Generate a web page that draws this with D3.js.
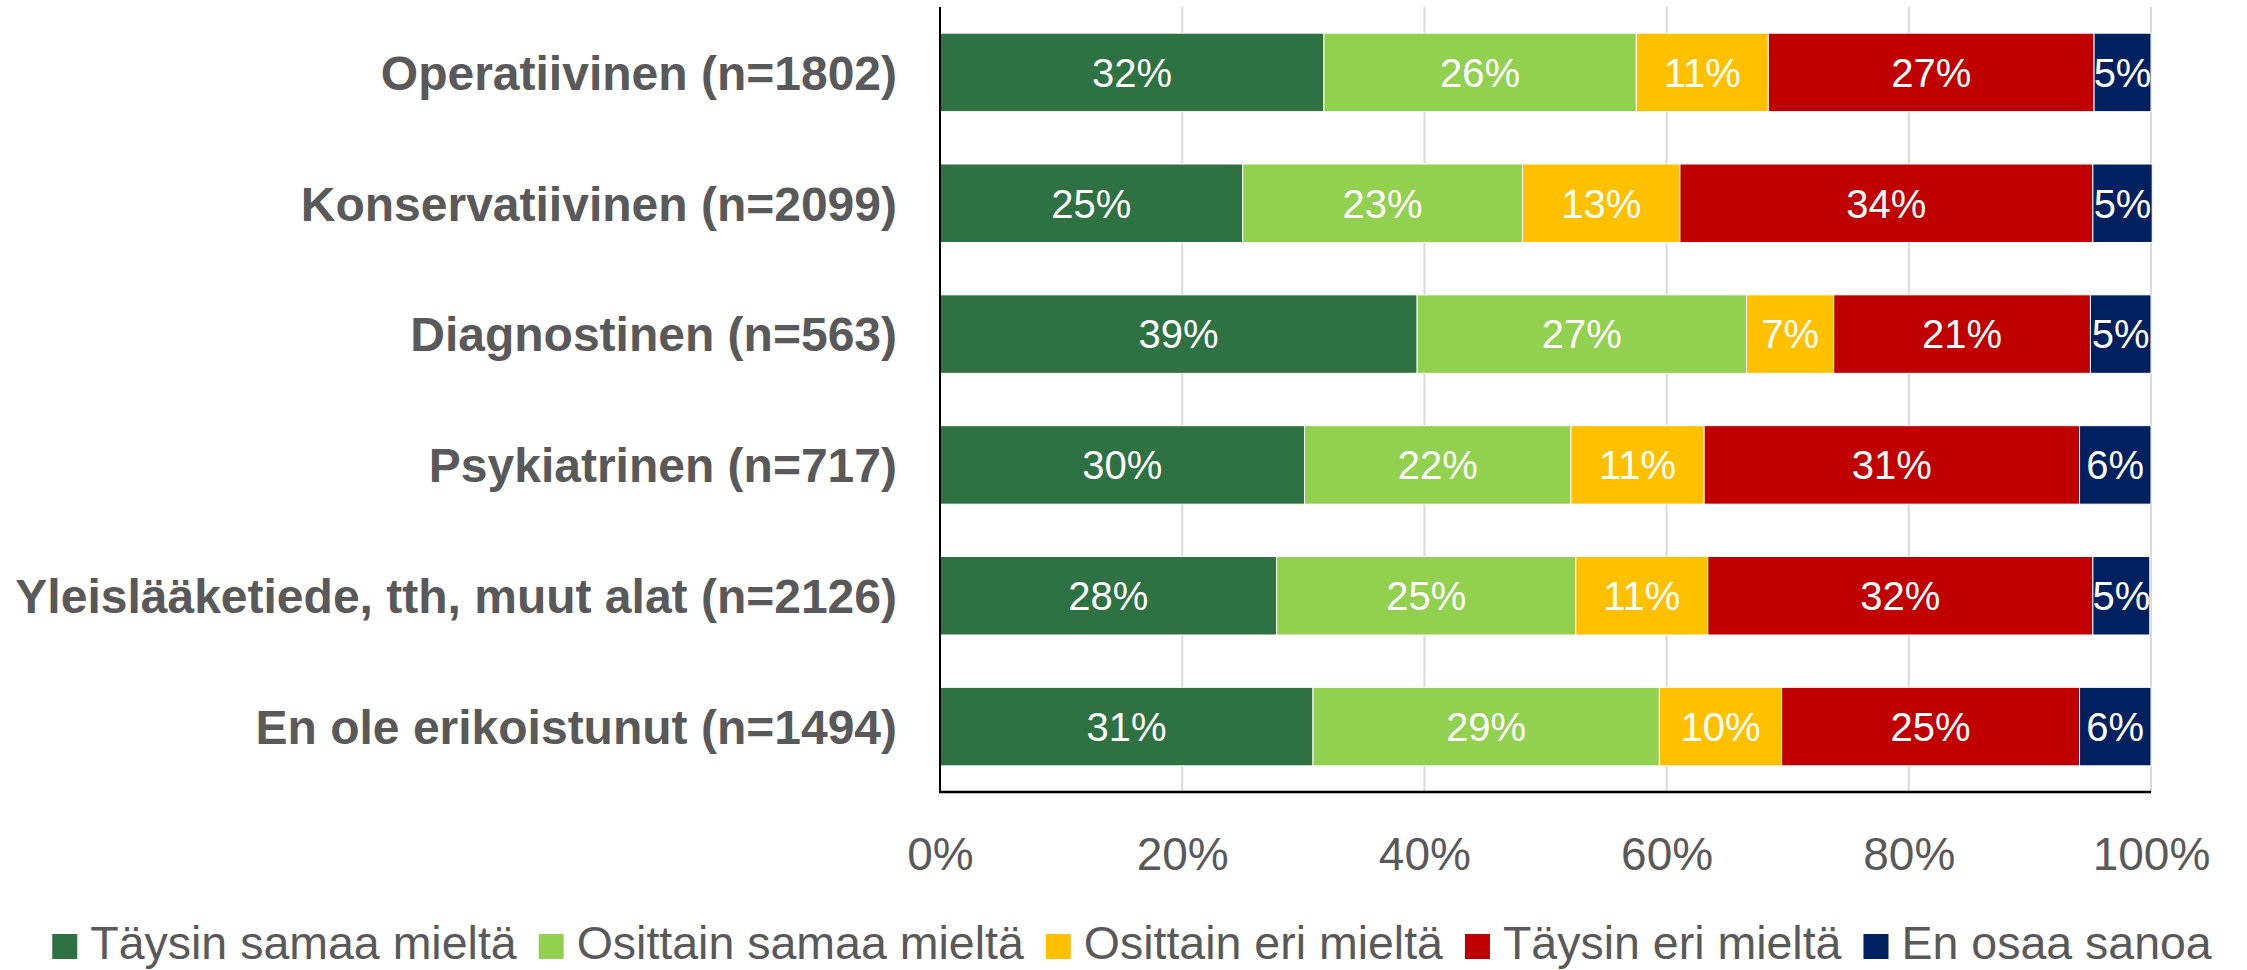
<!DOCTYPE html>
<html>
<head>
<meta charset="utf-8">
<script src="https://cdn.jsdelivr.net/npm/d3@7"></script>
<style>
  html, body { margin: 0; padding: 0; background: #fff; }
  svg { display: block; font-family: "Liberation Sans", Arial, sans-serif; }
</style>
</head>
<body>
<svg id="chart" width="2247" height="970"></svg>
<script>
// ---- data ----
const categories = [
  "Operatiivinen (n=1802)",
  "Konservatiivinen (n=2099)",
  "Diagnostinen (n=563)",
  "Psykiatrinen (n=717)",
  "Yleislääketiede, tth, muut alat (n=2126)",
  "En ole erikoistunut (n=1494)"
];
const seriesNames = [
  "Täysin samaa mieltä",
  "Osittain samaa mieltä",
  "Osittain eri mieltä",
  "Täysin eri mieltä",
  "En osaa sanoa"
];
const taysinSamaa   = [0.317, 0.250, 0.394, 0.301, 0.278, 0.308];
const osittainSamaa = [0.258, 0.231, 0.272, 0.220, 0.247, 0.286];
const osittainEri   = [0.109, 0.130, 0.072, 0.110, 0.109, 0.101];
const taysinEri     = [0.269, 0.341, 0.212, 0.310, 0.318, 0.246];
const enOsaa        = [0.047, 0.049, 0.050, 0.059, 0.047, 0.059];
const tickValues = [0, 0.2, 0.4, 0.6, 0.8, 1.0];
const colors = ["#2E7142", "#92D050", "#FFC000", "#C00000", "#002060"];

const seriesValues = [taysinSamaa, osittainSamaa, osittainEri, taysinEri, enOsaa];

// ---- layout ----
const svg = d3.select("#chart");
const plotLeft = 940, plotRight = 2151, plotTop = 7, plotBottom = 792;

const x = d3.scaleLinear().domain([0, 1]).range([plotLeft, plotRight]);
const y = d3.scaleBand().domain(categories).range([plotTop, plotBottom]).paddingInner(0.4).paddingOuter(0.2);

// table for stacking
const rows = categories.map((c, i) => {
  const r = { cat: c };
  seriesNames.forEach((s, j) => r[s] = seriesValues[j][i]);
  return r;
});
const stacked = d3.stack().keys(seriesNames)(rows);

// gridlines
svg.append("g")
  .selectAll("line")
  .data(tickValues.filter(t => t > 0))
  .join("line")
  .attr("x1", d => x(d)).attr("x2", d => x(d))
  .attr("y1", plotTop).attr("y2", plotBottom)
  .attr("stroke", "#D9D9D9").attr("stroke-width", 2);

// bars
const layers = svg.append("g").selectAll("g")
  .data(stacked)
  .join("g")
  .attr("fill", (d, i) => colors[i]);

layers.selectAll("rect")
  .data(d => d)
  .join("rect")
  .attr("x", d => x(d[0]))
  .attr("width", d => x(d[1]) - x(d[0]))
  .attr("y", d => y(d.data.cat))
  .attr("height", y.bandwidth())
  .attr("stroke", "#ffffff")
  .attr("stroke-width", 1);

// bar labels
const fmt = d3.format(".0%");
layers.selectAll("text")
  .data(d => d)
  .join("text")
  .attr("x", d => (x(d[0]) + x(d[1])) / 2)
  .attr("y", d => y(d.data.cat) + y.bandwidth() / 2)
  .attr("dy", "0.36em")
  .attr("text-anchor", "middle")
  .attr("fill", "#ffffff")
  .attr("font-size", 40)
  .text(d => fmt(d[1] - d[0]));

// y axis labels
const yAxis = d3.axisLeft(y).tickSize(0).tickPadding(43);
const gy = svg.append("g").attr("transform", `translate(${plotLeft},0)`).call(yAxis);
gy.select(".domain").remove();
gy.selectAll("text")
  .attr("font-family", "Liberation Sans, Arial, sans-serif")
  .attr("font-size", 48)
  .attr("font-weight", "bold")
  .attr("fill", "#595959")
  .attr("dy", "0.36em");

// x axis labels
const xAxis = d3.axisBottom(x).tickValues(tickValues).tickFormat(d3.format(".0%")).tickSize(0).tickPadding(45);
const gx = svg.append("g").attr("transform", `translate(0,${plotBottom})`).call(xAxis);
gx.select(".domain").remove();
gx.selectAll("text")
  .attr("font-family", "Liberation Sans, Arial, sans-serif")
  .attr("font-size", 46)
  .attr("fill", "#595959");

// axis lines
svg.append("line")
  .attr("x1", plotLeft).attr("x2", plotLeft).attr("y1", plotTop).attr("y2", plotBottom + 1)
  .attr("stroke", "#000").attr("stroke-width", 2);
svg.append("line")
  .attr("x1", plotLeft - 1).attr("x2", plotRight).attr("y1", plotBottom).attr("y2", plotBottom)
  .attr("stroke", "#000").attr("stroke-width", 2.5);

// legend
const legend = svg.append("g");
const items = legend.selectAll("g").data(seriesNames).join("g");
items.append("rect")
  .attr("width", 25).attr("height", 25)
  .attr("y", 934)
  .attr("fill", (d, i) => colors[i]);
items.append("text")
  .attr("x", 38)
  .attr("y", 959)
  .attr("font-size", 46.5)
  .attr("fill", "#595959")
  .text(d => d);
let cx = 0;
const gap = 22;
items.each(function () {
  const w = 38 + d3.select(this).select("text").node().getComputedTextLength();
  d3.select(this).attr("transform", `translate(${cx},0)`);
  cx += w + gap;
});
const total = cx - gap;
legend.attr("transform", `translate(${1132 - total / 2},0)`);
</script>
</body>
</html>
